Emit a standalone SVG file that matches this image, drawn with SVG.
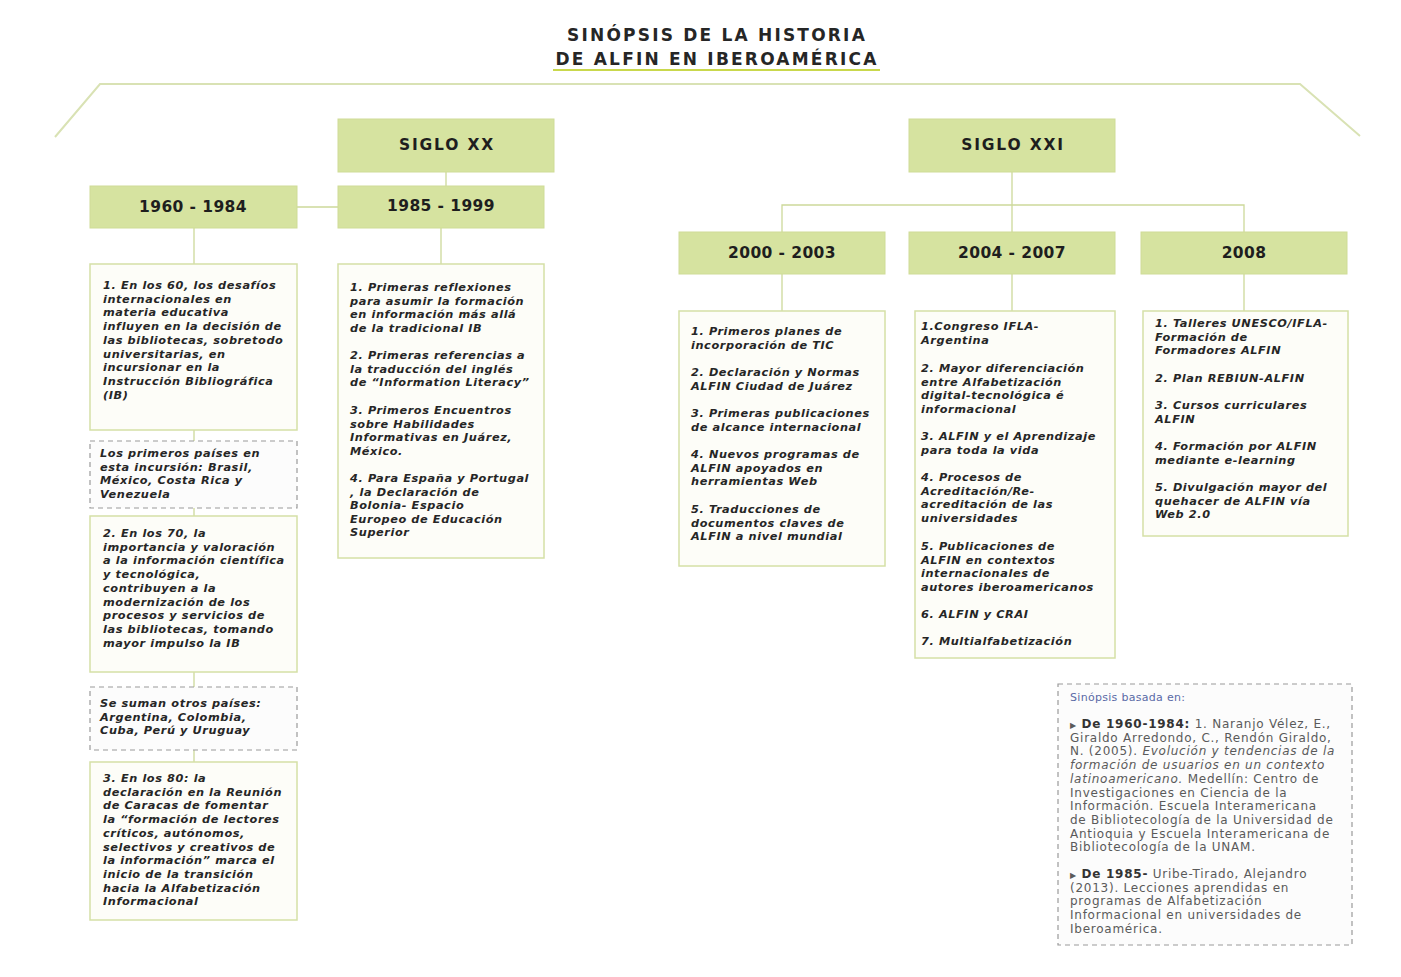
<svg xmlns="http://www.w3.org/2000/svg" width="1401" height="977" viewBox="0 0 1401 977">
<style>
.bg{fill:#ffffff}
.hdr{fill:#d6e3a0;stroke:#cfdc97;stroke-width:1}
.ht{font-family:"DejaVu Sans",Verdana,sans-serif;font-weight:bold;font-size:15.5px;letter-spacing:0.4px;fill:#1e1e1e;text-anchor:middle}
.sg{letter-spacing:1.8px}
.box{fill:#fdfdf8;stroke:#d5e0a6;stroke-width:1.5}
.dbox{fill:#fcfcfc;stroke:#9a9a9a;stroke-width:1.2;stroke-dasharray:5 4}
.bt{font-family:"DejaVu Sans",Verdana,sans-serif;font-weight:bold;font-style:italic;font-size:11.3px;letter-spacing:0.6px;fill:#262626}
.ln{stroke:#cdd99a;stroke-width:1.3;fill:none}
.frame{stroke:#d9e2b4;stroke-width:2;fill:none}
.title{font-family:"DejaVu Sans",Verdana,sans-serif;font-weight:bold;font-size:17px;letter-spacing:2.2px;fill:#262626;text-anchor:middle}
.ref{font-family:"DejaVu Sans",Verdana,sans-serif;font-size:12px;letter-spacing:0.75px;fill:#5a5a5a}
</style>
<rect class="bg" x="0" y="0" width="1401" height="977"/>

<g id="title">
<text class="title" x="717" y="41">SINÓPSIS DE LA HISTORIA</text>
<text class="title" x="717" y="65">DE ALFIN EN IBEROAMÉRICA</text>
<line x1="553" y1="70" x2="880" y2="70" stroke="#c9d84c" stroke-width="2"/>
</g>

<g id="frame">
<polyline class="frame" points="55,137 100,84 1300,84 1360,136"/>
</g>

<g id="connectors">
<line class="ln" x1="446" y1="172" x2="446" y2="186"/>
<line class="ln" x1="297" y1="207" x2="338" y2="207"/>
<line class="ln" x1="194" y1="228" x2="194" y2="264"/>
<line class="ln" x1="194" y1="430" x2="194" y2="441"/>
<line class="ln" x1="194" y1="508" x2="194" y2="516"/>
<line class="ln" x1="194" y1="672" x2="194" y2="687"/>
<line class="ln" x1="194" y1="750" x2="194" y2="762"/>
<line class="ln" x1="441" y1="228" x2="441" y2="264"/>
<line class="ln" x1="1012" y1="172" x2="1012" y2="232"/>
<polyline class="ln" points="782,232 782,205 1244,205 1244,232"/>
<line class="ln" x1="782" y1="274" x2="782" y2="311"/>
<line class="ln" x1="1012" y1="274" x2="1012" y2="311"/>
<line class="ln" x1="1244" y1="274" x2="1244" y2="311"/>
</g>

<g id="siglo-xx">
<rect class="hdr" x="338" y="119" width="216" height="53"/>
<text class="ht sg" x="447" y="150">SIGLO XX</text>
</g>
<g id="siglo-xxi">
<rect class="hdr" x="909" y="119" width="206" height="53"/>
<text class="ht sg" x="1013" y="150">SIGLO XXI</text>
</g>
<g id="p1960">
<rect class="hdr" x="90" y="186" width="207" height="42"/>
<text class="ht" x="193" y="212">1960 - 1984</text>
</g>
<g id="p1985">
<rect class="hdr" x="338" y="186" width="206" height="42"/>
<text class="ht" x="441" y="211">1985 - 1999</text>
</g>
<g id="p2000">
<rect class="hdr" x="679" y="232" width="206" height="42"/>
<text class="ht" x="782" y="258">2000 - 2003</text>
</g>
<g id="p2004">
<rect class="hdr" x="909" y="232" width="206" height="42"/>
<text class="ht" x="1012" y="258">2004 - 2007</text>
</g>
<g id="p2008">
<rect class="hdr" x="1141" y="232" width="206" height="42"/>
<text class="ht" x="1244" y="258">2008</text>
</g>

<g id="box-60">
<rect class="box" x="90" y="264" width="207" height="166"/>
<text class="bt" x="103">
<tspan x="103" y="289">1. En los 60, los desafíos</tspan>
<tspan x="103" y="302.7">internacionales en</tspan>
<tspan x="103" y="316.4">materia educativa</tspan>
<tspan x="103" y="330.1">influyen en la decisión de</tspan>
<tspan x="103" y="343.8">las bibliotecas, sobretodo</tspan>
<tspan x="103" y="357.5">universitarias, en</tspan>
<tspan x="103" y="371.2">incursionar en la</tspan>
<tspan x="103" y="384.9">Instrucción Bibliográfica</tspan>
<tspan x="103" y="398.6">(IB)</tspan>
</text>
</g>

<g id="note-1">
<rect class="dbox" x="90" y="441" width="207" height="67"/>
<text class="bt">
<tspan x="100" y="457">Los primeros países en</tspan>
<tspan x="100" y="470.7">esta incursión: Brasil,</tspan>
<tspan x="100" y="484.4">México,  Costa Rica y</tspan>
<tspan x="100" y="498.1">Venezuela</tspan>
</text>
</g>

<g id="box-70">
<rect class="box" x="90" y="516" width="207" height="156"/>
<text class="bt">
<tspan x="103" y="537">2. En los 70, la</tspan>
<tspan x="103" y="550.7">importancia y valoración</tspan>
<tspan x="103" y="564.4">a la información científica</tspan>
<tspan x="103" y="578.1">y tecnológica,</tspan>
<tspan x="103" y="591.8">contribuyen a la</tspan>
<tspan x="103" y="605.5">modernización de los</tspan>
<tspan x="103" y="619.2">procesos y servicios de</tspan>
<tspan x="103" y="632.9">las bibliotecas, tomando</tspan>
<tspan x="103" y="646.6">mayor impulso la IB</tspan>
</text>
</g>

<g id="note-2">
<rect class="dbox" x="90" y="687" width="207" height="63"/>
<text class="bt">
<tspan x="100" y="707">Se suman otros países:</tspan>
<tspan x="100" y="720.7">Argentina, Colombia,</tspan>
<tspan x="100" y="734.4">Cuba, Perú y Uruguay</tspan>
</text>
</g>

<g id="box-80">
<rect class="box" x="90" y="762" width="207" height="158"/>
<text class="bt">
<tspan x="103" y="782">3. En los 80: la</tspan>
<tspan x="103" y="795.7">declaración en la Reunión</tspan>
<tspan x="103" y="809.4">de Caracas de fomentar</tspan>
<tspan x="103" y="823.1">la “formación de lectores</tspan>
<tspan x="103" y="836.8">críticos, autónomos,</tspan>
<tspan x="103" y="850.5">selectivos y creativos de</tspan>
<tspan x="103" y="864.2">la información”  marca el</tspan>
<tspan x="103" y="877.9">inicio de la transición</tspan>
<tspan x="103" y="891.6">hacia la Alfabetización</tspan>
<tspan x="103" y="905.3">Informacional</tspan>
</text>
</g>

<g id="box-1985">
<rect class="box" x="338" y="264" width="206" height="294"/>
<text class="bt">
<tspan x="350" y="291">1. Primeras reflexiones</tspan>
<tspan x="350" y="304.5">para asumir la formación</tspan>
<tspan x="350" y="318">en información más allá</tspan>
<tspan x="350" y="331.5">de la tradicional IB</tspan>
<tspan x="350" y="359">2. Primeras referencias a</tspan>
<tspan x="350" y="372.5">la traducción del inglés</tspan>
<tspan x="350" y="386">de “Information Literacy”</tspan>
<tspan x="350" y="414">3. Primeros Encuentros</tspan>
<tspan x="350" y="427.5">sobre Habilidades</tspan>
<tspan x="350" y="441">Informativas en Juárez,</tspan>
<tspan x="350" y="454.5">México.</tspan>
<tspan x="350" y="482">4. Para España y Portugal</tspan>
<tspan x="350" y="495.5">, la Declaración de</tspan>
<tspan x="350" y="509">Bolonia- Espacio</tspan>
<tspan x="350" y="522.5">Europeo de Educación</tspan>
<tspan x="350" y="536">Superior</tspan>
</text>
</g>

<g id="box-2000">
<rect class="box" x="679" y="311" width="206" height="255"/>
<text class="bt">
<tspan x="691" y="335">1. Primeros planes de</tspan>
<tspan x="691" y="348.5">incorporación de TIC</tspan>
<tspan x="691" y="376">2. Declaración y Normas</tspan>
<tspan x="691" y="389.5">ALFIN Ciudad de Juárez</tspan>
<tspan x="691" y="417">3. Primeras publicaciones</tspan>
<tspan x="691" y="430.5">de alcance internacional</tspan>
<tspan x="691" y="458">4. Nuevos programas de</tspan>
<tspan x="691" y="471.5">ALFIN apoyados en</tspan>
<tspan x="691" y="485">herramientas Web</tspan>
<tspan x="691" y="513">5. Traducciones de</tspan>
<tspan x="691" y="526.5">documentos claves de</tspan>
<tspan x="691" y="540">ALFIN a nivel mundial</tspan>
</text>
</g>

<g id="box-2004">
<rect class="box" x="915" y="311" width="200" height="347"/>
<text class="bt">
<tspan x="921" y="330">1.Congreso IFLA-</tspan>
<tspan x="921" y="343.6">Argentina</tspan>
<tspan x="921" y="372">2. Mayor diferenciación</tspan>
<tspan x="921" y="385.6">entre Alfabetización</tspan>
<tspan x="921" y="399.2">digital-tecnológica é</tspan>
<tspan x="921" y="412.8">informacional</tspan>
<tspan x="921" y="440">3. ALFIN y el Aprendizaje</tspan>
<tspan x="921" y="453.6">para toda la vida</tspan>
<tspan x="921" y="481">4. Procesos de</tspan>
<tspan x="921" y="494.6">Acreditación/Re-</tspan>
<tspan x="921" y="508.2">acreditación de las</tspan>
<tspan x="921" y="521.8">universidades</tspan>
<tspan x="921" y="550">5. Publicaciones de</tspan>
<tspan x="921" y="563.6">ALFIN en contextos</tspan>
<tspan x="921" y="577.2">internacionales de</tspan>
<tspan x="921" y="590.8">autores iberoamericanos</tspan>
<tspan x="921" y="618">6. ALFIN y CRAI</tspan>
<tspan x="921" y="645">7. Multialfabetización</tspan>
</text>
</g>

<g id="box-2008">
<rect class="box" x="1143" y="311" width="205" height="225"/>
<text class="bt">
<tspan x="1155" y="327">1. Talleres UNESCO/IFLA-</tspan>
<tspan x="1155" y="340.6">Formación de</tspan>
<tspan x="1155" y="354.2">Formadores ALFIN</tspan>
<tspan x="1155" y="382">2. Plan REBIUN-ALFIN</tspan>
<tspan x="1155" y="409">3. Cursos curriculares</tspan>
<tspan x="1155" y="422.6">ALFIN</tspan>
<tspan x="1155" y="450">4. Formación por ALFIN</tspan>
<tspan x="1155" y="463.6">mediante e-learning</tspan>
<tspan x="1155" y="491">5. Divulgación mayor del</tspan>
<tspan x="1155" y="504.6">quehacer de ALFIN vía</tspan>
<tspan x="1155" y="518.2">Web 2.0</tspan>
</text>
</g>

<g id="sources">
<rect class="dbox" x="1058" y="684" width="294" height="261"/>
<text class="ref" x="1070" y="701" style="fill:#5a6aa6;font-size:11px;letter-spacing:0.3px">Sinópsis basada en:</text>
<text class="ref">
<tspan x="1070" y="728"><tspan style="font-size:8px">▶</tspan> <tspan font-weight="bold" fill="#333">De 1960-1984:</tspan> 1. Naranjo Vélez, E.,</tspan>
<tspan x="1070" y="741.7">Giraldo Arredondo, C., Rendón Giraldo,</tspan>
<tspan x="1070" y="755.4">N. (2005). <tspan font-style="italic">Evolución y tendencias de la</tspan></tspan>
<tspan x="1070" y="769.1" font-style="italic">formación de usuarios en un contexto</tspan>
<tspan x="1070" y="782.8"><tspan font-style="italic">latinoamericano.</tspan> Medellín: Centro de</tspan>
<tspan x="1070" y="796.5">Investigaciones en Ciencia de la</tspan>
<tspan x="1070" y="810.2">Información. Escuela Interamericana</tspan>
<tspan x="1070" y="823.9">de Bibliotecología de la Universidad de</tspan>
<tspan x="1070" y="837.6">Antioquia y Escuela Interamericana de</tspan>
<tspan x="1070" y="851.3">Bibliotecología de la UNAM.</tspan>
<tspan x="1070" y="878"><tspan style="font-size:8px">▶</tspan> <tspan font-weight="bold" fill="#333">De 1985-</tspan> Uribe-Tirado, Alejandro</tspan>
<tspan x="1070" y="891.7">(2013). Lecciones aprendidas en</tspan>
<tspan x="1070" y="905.4">programas de Alfabetización</tspan>
<tspan x="1070" y="919.1">Informacional en universidades de</tspan>
<tspan x="1070" y="932.8">Iberoamérica.</tspan>
</text>
</g>
</svg>
